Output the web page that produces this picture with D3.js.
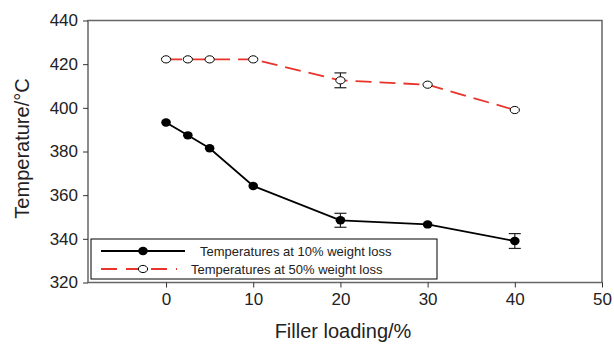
<!DOCTYPE html>
<html>
<head>
<meta charset="utf-8">
<script src="https://cdn.jsdelivr.net/npm/d3@7/dist/d3.min.js"></script>
<style>
  html, body { margin: 0; padding: 0; background: #fff; }
  svg { display: block; font-family: "Liberation Sans", Arial, sans-serif; }
</style>
</head>
<body>
<div id="chart"></div>
<script>
// data
const loading = [0, 2.5, 5, 10, 20, 30, 40];
const temp10 = [393.3, 387.4, 381.5, 364.2, 348.5, 346.6, 339.0];
const err10 = [0, 0, 0, 0, 3.2, 0, 3.4];
const temp50 = [422.2, 422.2, 422.2, 422.2, 412.6, 410.6, 399.0];
const err50 = [0, 0, 0, 0, 3.4, 0, 0];
const xTicks = [0, 10, 20, 30, 40, 50];
const yTicks = [320, 340, 360, 380, 400, 420, 440];
const seriesNames = ["Temperatures at 10% weight loss", "Temperatures at 50% weight loss"];

const W = 614, H = 345;
const svg = d3.select("#chart").append("svg").attr("width", W).attr("height", H);

const x = d3.scaleLinear().domain([-8.95, 50]).range([88, 602]);
const y = d3.scaleLinear().domain([320, 440]).range([282.5, 20.5]);

const axisColor = "#666";

// frame
svg.append("rect")
  .attr("x", x.range()[0]).attr("y", y.range()[1])
  .attr("width", x.range()[1] - x.range()[0])
  .attr("height", y.range()[0] - y.range()[1])
  .attr("fill", "none").attr("stroke", axisColor).attr("stroke-width", 1.5);

// axes
const xAxis = svg.append("g")
  .attr("transform", `translate(0,${y.range()[0]})`)
  .call(d3.axisBottom(x).tickValues(xTicks).tickSize(5).tickPadding(5));
const yAxis = svg.append("g")
  .attr("transform", `translate(${x.range()[0]},0)`)
  .call(d3.axisLeft(y).tickValues(yTicks).tickSize(5).tickPadding(5));

[xAxis, yAxis].forEach(g => {
  g.select(".domain").remove();
  g.selectAll(".tick line").attr("stroke", "#333");
  g.selectAll("text").attr("fill", "#222").style("font-size", "17px").attr("font-family", null);
});

// axis titles
svg.append("text")
  .attr("x", (x.range()[0] + x.range()[1]) / 2 - 2).attr("y", 338)
  .attr("text-anchor", "middle").attr("fill", "#222")
  .style("font-size", "20px").text("Filler loading/%");
svg.append("text")
  .attr("transform", `translate(29,${(y.range()[0] + y.range()[1]) / 2 - 3}) rotate(-90)`)
  .attr("text-anchor", "middle").attr("fill", "#222")
  .style("font-size", "20px").text("Temperature/°C");

const red = "#e8342b";

// lines
const line = vals => d3.line().x((d, i) => x(loading[i])).y(d => y(d))(vals);

svg.append("path").attr("d", line(temp50))
  .attr("fill", "none").attr("stroke", red).attr("stroke-width", 1.8)
  .attr("stroke-dasharray", "16,8");
svg.append("path").attr("d", line(temp10))
  .attr("fill", "none").attr("stroke", "#000").attr("stroke-width", 1.8);

// error bars
const drawErr = (vals, errs) => {
  vals.forEach((v, i) => {
    if (!errs[i]) return;
    const cx = x(loading[i]);
    const g = svg.append("g").attr("stroke", "#222").attr("stroke-width", 1.2);
    g.append("line").attr("x1", cx).attr("x2", cx).attr("y1", y(v - errs[i])).attr("y2", y(v + errs[i]));
    [v - errs[i], v + errs[i]].forEach(e => {
      g.append("line").attr("x1", cx - 6).attr("x2", cx + 6).attr("y1", y(e)).attr("y2", y(e));
    });
  });
};
drawErr(temp10, err10);
drawErr(temp50, err50);

// markers
svg.selectAll(".m10").data(temp10).enter().append("ellipse")
  .attr("cx", (d, i) => x(loading[i])).attr("cy", d => y(d))
  .attr("rx", 4.8).attr("ry", 4.2).attr("fill", "#000");
svg.selectAll(".m50").data(temp50).enter().append("ellipse")
  .attr("cx", (d, i) => x(loading[i])).attr("cy", d => y(d))
  .attr("rx", 4.6).attr("ry", 3.6).attr("fill", "#fff")
  .attr("stroke", "#000").attr("stroke-width", 1);

// legend
const lg = svg.append("g");
lg.append("rect").attr("x", 91).attr("y", 239).attr("width", 346).attr("height", 40)
  .attr("fill", "#fff").attr("stroke", "#000").attr("stroke-width", 1);

const rows = [251, 269];
lg.append("line").attr("x1", 101).attr("x2", 185).attr("y1", rows[0]).attr("y2", rows[0])
  .attr("stroke", "#000").attr("stroke-width", 1.8);
lg.append("ellipse").attr("cx", 143).attr("cy", rows[0]).attr("rx", 4.8).attr("ry", 4.2).attr("fill", "#000");
lg.append("line").attr("x1", 101).attr("x2", 177).attr("y1", rows[1]).attr("y2", rows[1])
  .attr("stroke", red).attr("stroke-width", 1.8).attr("stroke-dasharray", "16,9");
lg.append("ellipse").attr("cx", 143).attr("cy", rows[1]).attr("rx", 4.6).attr("ry", 3.6)
  .attr("fill", "#fff").attr("stroke", "#000").attr("stroke-width", 1);

lg.append("text").attr("x", 200).attr("y", rows[0] + 4.5).attr("fill", "#222")
  .style("font-size", "13px").text(seriesNames[0]);
lg.append("text").attr("x", 191).attr("y", rows[1] + 4.5).attr("fill", "#222")
  .style("font-size", "13px").text(seriesNames[1]);
</script>
</body>
</html>
